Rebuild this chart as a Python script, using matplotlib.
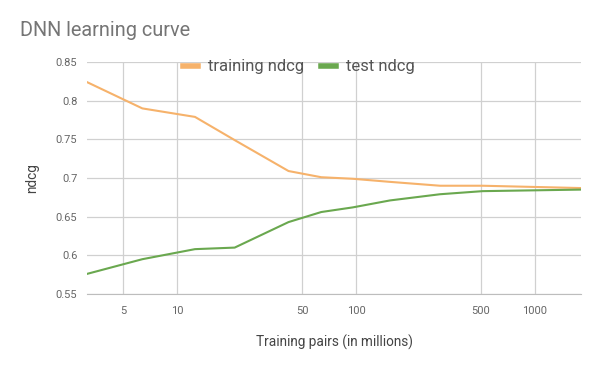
import numpy as np
import matplotlib
matplotlib.use('Agg')
import matplotlib.pyplot as plt
from matplotlib.ticker import FixedLocator, NullLocator, FixedFormatter

plt.rcParams['font.family'] = ['Roboto', 'DejaVu Sans']

# values
pairs_millions = [3.14, 6.4, 12.6, 21, 42, 64, 96, 155, 295, 510, 1810]
training_ndcg = [0.824, 0.790, 0.779, 0.749, 0.709, 0.701, 0.699, 0.695, 0.690, 0.690, 0.687]
test_ndcg = [0.576, 0.595, 0.608, 0.610, 0.643, 0.656, 0.662, 0.671, 0.679, 0.683, 0.685]

x_ticks = [5, 10, 50, 100, 500, 1000]
x_tick_labels = ['5', '10', '50', '100', '500', '1000']
y_ticks = [0.55, 0.6, 0.65, 0.7, 0.75, 0.8, 0.85]
y_tick_labels = ['0.55', '0.6', '0.65', '0.7', '0.75', '0.8', '0.85']

fig = plt.figure(figsize=(5.99, 3.72), dpi=100)
ax = fig.add_axes([87 / 599, 1 - 294 / 372, (581 - 87) / 599, (294 - 62) / 372])

ax.plot(pairs_millions, training_ndcg, color='#f6b26b', lw=1.5, label='training ndcg')
ax.plot(pairs_millions, test_ndcg, color='#6aa84f', lw=1.5, label='test ndcg')

ax.set_xscale('log')
ax.set_xlim(3.14, 1810)
ax.set_ylim(0.55, 0.85)
ax.xaxis.set_major_locator(FixedLocator(x_ticks))
ax.xaxis.set_major_formatter(FixedFormatter(x_tick_labels))
ax.xaxis.set_minor_locator(NullLocator())
ax.set_yticks(y_ticks)
ax.set_yticklabels(y_tick_labels)

ax.grid(True, color='#d0d0d0', lw=0.9)
ax.set_axisbelow(True)
for s in ['top', 'right', 'left']:
    ax.spines[s].set_visible(False)
ax.spines['bottom'].set_color('#bdbdbd')
ax.tick_params(length=0, labelsize=8, labelcolor='#666666')
ax.tick_params(axis='x', pad=9)
ax.tick_params(axis='y', pad=7)

ax.set_xlabel('Training pairs (in millions)', fontsize=9.8, color='#444444', labelpad=13)
ax.set_ylabel('ndcg', fontsize=9.8, color='#444444', labelpad=12)

fig.text(20 / 599, 1 - 31 / 372, 'DNN learning curve', fontsize=14.3, color='#757575', va='center')

leg = ax.legend(loc='center', bbox_to_anchor=(299 / 599, 1 - 67 / 372),
                bbox_transform=fig.transFigure, ncol=2, frameon=False,
                fontsize=12, handlelength=0.9, handletextpad=0.6, columnspacing=1.0,
                borderpad=0)
for h in leg.get_lines():
    h.set_linewidth(4)
for t in leg.get_texts():
    t.set_color('#555555')

fig.savefig('out.png', dpi=100)
